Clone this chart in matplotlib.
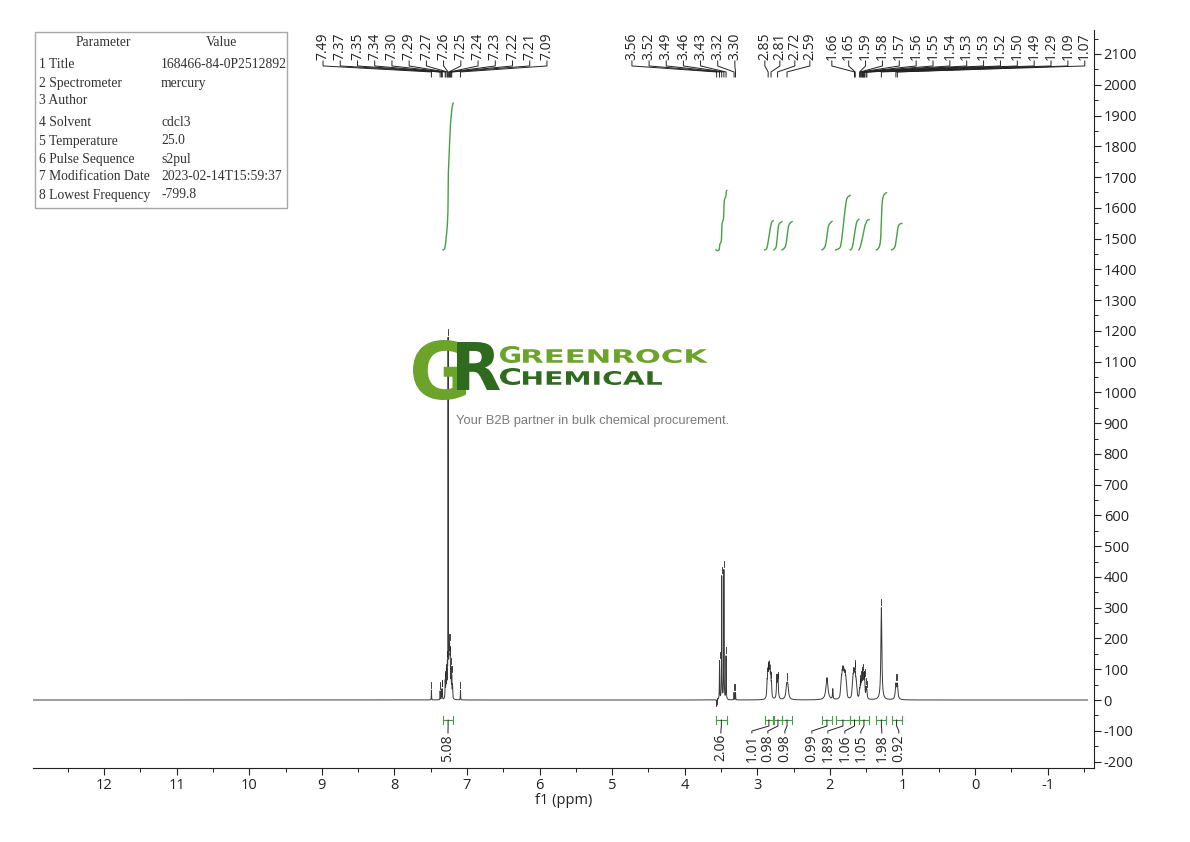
import matplotlib
matplotlib.use('Agg')
import matplotlib.pyplot as plt
import numpy as np
from matplotlib.textpath import TextPath
from matplotlib.patches import PathPatch, Rectangle
from matplotlib.font_manager import FontProperties
from matplotlib.transforms import Affine2D
from matplotlib.ticker import MultipleLocator

plt.rcParams['font.family'] = ['Open Sans', 'DejaVu Sans']
plt.rcParams['axes.unicode_minus'] = False

# --- peaks of the 1H spectrum (ppm, height, half width) ---
peak_ppm = [7.49, 7.37, 7.35, 7.34, 7.30, 7.29, 7.28, 7.27, 7.26, 7.25, 7.245, 7.24, 7.235,
            7.23, 7.22, 7.21, 7.20, 7.09,
            3.56, 3.52, 3.49, 3.46, 3.43, 3.32, 3.30,
            2.865, 2.855, 2.845, 2.835, 2.825, 2.815, 2.805,
            2.73, 2.715, 2.595, 2.58,
            2.04, 1.96,
            1.85, 1.84, 1.83, 1.82, 1.81, 1.80, 1.79, 1.78, 1.77,
            1.69, 1.68, 1.67, 1.66, 1.65, 1.64, 1.63,
            1.59, 1.58, 1.57, 1.56, 1.55, 1.54, 1.535, 1.525, 1.52, 1.50, 1.49,
            1.29, 1.09, 1.07]
peak_height = [32, 28, 33, 33, 55, 70, 80, 90, 1150, 115, 105, 105, 95,
               95, 85, 65, 42, 30,
               -22, 125, 400, 420, 140, 24, 24,
               45, 70, 80, 85, 75, 60, 40,
               72, 72, 40, 40,
               72, 33,
               28, 46, 58, 66, 60, 54, 58, 46, 28,
               32, 50, 65, 60, 55, 42, 28,
               24, 32, 40, 44, 48, 46, 42, 40, 38, 32, 24,
               300, 47, 47]
peak_hwhm = [.002, .002, .002, .002, .003, .003, .003, .003, .0015, .003, .003, .003, .003,
             .003, .003, .003, .003, .002,
             .002, .0025, .0025, .0025, .0025, .002, .002,
             .005, .005, .005, .005, .005, .005, .005,
             .006, .006, .012, .012,
             .016, .004,
             .006, .006, .006, .006, .006, .006, .006, .006, .006,
             .006, .006, .006, .006, .006, .006, .006,
             .005, .005, .005, .005, .005, .005, .005, .005, .005, .005, .005,
             .008, .009, .009]

# picked peak labels along the top
pick_labels = ['7.49', '7.37', '7.35', '7.34', '7.30', '7.29', '7.27', '7.26', '7.25', '7.24',
               '7.23', '7.22', '7.21', '7.09',
               '3.56', '3.52', '3.49', '3.46', '3.43', '3.32', '3.30',
               '2.85', '2.81', '2.72', '2.59',
               '1.66', '1.65', '1.59', '1.58', '1.57', '1.56', '1.55', '1.54', '1.53', '1.53',
               '1.52', '1.50', '1.49', '1.29', '1.09', '1.07']

# integrations
int_ranges = [(7.33, 7.19), (3.57, 3.42), (2.90, 2.78), (2.77, 2.66), (2.66, 2.52),
              (2.11, 1.97), (1.92, 1.72), (1.72, 1.60), (1.60, 1.46), (1.36, 1.22), (1.15, 1.01)]
int_values = [5.08, 2.06, 1.01, 0.98, 0.98, 0.99, 1.89, 1.06, 1.05, 1.98, 0.92]

param_names = ['Parameter', '1 Title', '2 Spectrometer', '3 Author', '4 Solvent', '5 Temperature',
               '6 Pulse Sequence', '7 Modification Date', '8 Lowest Frequency']
param_values = ['Value', '168466-84-0P2512892', 'mercury', '', 'cdcl3', '25.0', 's2pul',
                '2023-02-14T15:59:37', '-799.8']

W, H = 1190, 842


def px2ppm(px):
    return 12 - (px - 104) / 72.6


def py2val(py):
    return (700 - py) / 0.3076


ppm = np.linspace(12.98, -1.55, 80000)
spec = np.zeros_like(ppm)
for c, h, w in zip(peak_ppm, peak_height, peak_hwhm):
    spec += h / (1 + ((ppm - c) / w) ** 2)

fig = plt.figure(figsize=(W / 100, H / 100), dpi=100)
ax = fig.add_axes([33 / W, 74 / H, (1094 - 33) / W, (768 - 30) / H])
ax.set_xlim(12.98, -1.64)
ax.set_ylim(-221, 2178)

ax.plot(ppm, spec, color='#3a3a3a', lw=0.7, zorder=2)

ink = '#222222'
green = '#45a045'

# peak labels at top with leader lines
top_px = np.concatenate([np.linspace(323, 547, 14), np.linspace(632, 735, 7),
                         np.linspace(765, 810, 4), np.linspace(832, 1085, 16)])
for lab, lx in zip(pick_labels, top_px):
    p = float(lab)
    lp = px2ppm(lx)
    ax.text(lp, py2val(60), lab, rotation=90, ha='center', va='bottom', fontsize=10, color=ink)
    ax.plot([lp, lp, p, p], [py2val(61), py2val(66), py2val(72), py2val(77)],
            color=ink, lw=0.7)
    top = np.interp(-p, -ppm, spec)
    ax.plot([p, p], [top + 8, top + 28], color=ink, lw=0.6)

# integral curves, brackets and values
int_px = [448, 721, 752, 768, 785, 812, 828, 845, 861, 882, 899]
yb = py2val(720)
for (a, b), v, lx in zip(int_ranges, int_values, int_px):
    m = (ppm <= a) & (ppm >= b)
    c = np.cumsum(spec[m])
    c = (c - c[0]) / (c[-1] - c[0])
    ax.plot(ppm[m], 1463 + v * 94 * c, color=green, lw=1)
    mid = (a + b) / 2
    ax.plot([a, b], [yb, yb], color=green, lw=0.8)
    ax.plot([a, a], [yb - 12, yb + 12], color=green, lw=0.8)
    ax.plot([b, b], [yb - 12, yb + 12], color=green, lw=0.8)
    lp = px2ppm(lx)
    ax.plot([mid, mid, lp, lp], [yb, py2val(726), py2val(731), py2val(733)], color=ink, lw=0.7)
    ax.text(lp, py2val(734), f'{v:.2f}', rotation=90, ha='center', va='top', fontsize=10, color=ink)

# axes styling
for s in ['left', 'top']:
    ax.spines[s].set_visible(False)
for s in ['right', 'bottom']:
    ax.spines[s].set_color(ink)
    ax.spines[s].set_linewidth(0.8)
ax.yaxis.tick_right()
ax.set_xticks(np.arange(12, -2, -1))
ax.xaxis.set_minor_locator(MultipleLocator(0.5))
ax.set_yticks(np.arange(-200, 2101, 100))
ax.yaxis.set_minor_locator(MultipleLocator(50))
ax.tick_params(which='major', direction='out', length=5, width=0.8, labelsize=10.5, colors=ink, pad=2)
ax.tick_params(which='minor', direction='out', length=3, width=0.7, colors=ink)
ax.set_xlabel('f1 (ppm)', fontsize=10.5, color=ink, labelpad=0)

# parameter table
fig.add_artist(Rectangle((35 / W, 1 - 208 / H), 252 / W, 176 / H, transform=fig.transFigure,
                         fill=False, edgecolor='#a8a8a8', lw=1))
row_y = [43, 65, 83, 101, 123, 141, 159, 177, 195]
tfont = dict(family='Liberation Serif', fontsize=9.8, color='#333333', va='center')
for i, (n, v) in enumerate(zip(param_names, param_values)):
    if i == 0:
        fig.text(103 / W, 1 - row_y[i] / H, n, ha='center', **tfont)
        fig.text(221 / W, 1 - row_y[i] / H, v, ha='center', **tfont)
    else:
        fig.text(39 / W, 1 - row_y[i] / H, n, ha='left', **tfont)
        fig.text(161 / W, 1 - row_y[i] / H, v, ha='left', **tfont)


# watermark logo
def fit_text(s, x0, y0, x1, y1, color, weight='bold'):
    tp = TextPath((0, 0), s, size=100, prop=FontProperties(family='DejaVu Sans', weight=weight))
    e = tp.get_extents()
    tr = (Affine2D().translate(-e.x0, -e.y0)
          .scale((x1 - x0) / e.width, (y1 - y0) / e.height)
          .translate(x0, H - y1).scale(1 / W, 1 / H) + fig.transFigure)
    fig.add_artist(PathPatch(tp, transform=tr, facecolor=color, edgecolor='none', zorder=6))


light, dark = '#6ba32b', '#2f6b1f'
fit_text('G', 413, 340, 466, 400, light)
fit_text('R', 457, 342, 500, 390, dark)
fit_text('G', 500, 346, 520, 363, light)
fit_text('REENROCK', 523, 349, 708, 363, light)
fit_text('C', 500, 368, 520, 385, dark)
fit_text('HEMICAL', 523, 371, 662, 385, dark)
fig.text(456 / W, 1 - 421 / H, 'Your B2B partner in bulk chemical procurement.',
         family='Liberation Sans', fontsize=9.3, color='#7a7a7a', va='center', ha='left', zorder=6)

fig.savefig('out.png', dpi=100)
